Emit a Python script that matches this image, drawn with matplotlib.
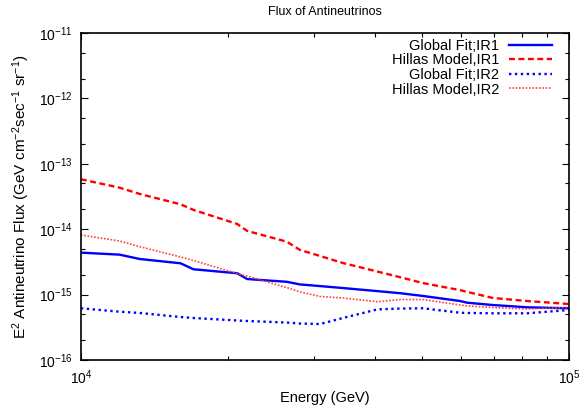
import matplotlib
matplotlib.use("Agg")
import matplotlib.pyplot as plt
from matplotlib.ticker import LogLocator, NullFormatter

plt.rcParams['font.family'] = ['Liberation Sans', 'DejaVu Sans']
plt.rcParams['mathtext.fontset'] = 'custom'
plt.rcParams['mathtext.rm'] = 'Liberation Sans'
plt.rcParams['mathtext.it'] = 'Liberation Sans:italic'
plt.rcParams['mathtext.bf'] = 'Liberation Sans:bold'

energy = [10000, 12000, 13200, 16000, 17000, 20900, 21900, 26400, 28100, 30900,
          34400, 40500, 45100, 50200, 59800, 61800, 69800, 82000, 100000]

global_fit_ir1 = [4.38e-15, 4.08e-15, 3.50e-15, 3.01e-15, 2.44e-15, 2.12e-15, 1.73e-15,
                  1.57e-15, 1.43e-15, 1.35e-15, 1.26e-15, 1.13e-15, 1.05e-15, 9.53e-16,
                  7.98e-16, 7.52e-16, 6.93e-16, 6.40e-16, 6.18e-16]
hillas_ir1 = [5.79e-14, 4.31e-14, 3.45e-14, 2.40e-14, 1.97e-14, 1.20e-14, 9.4e-15,
              6.44e-15, 4.81e-15, 3.89e-15, 3.04e-15, 2.25e-15, 1.84e-15, 1.50e-15,
              1.17e-15, 1.10e-15, 8.88e-16, 7.98e-16, 7.18e-16]
global_fit_ir2 = [6.18e-16, 5.48e-16, 5.24e-16, 4.54e-16, 4.39e-16, 4.02e-16, 3.95e-16,
                  3.74e-16, 3.61e-16, 3.55e-16, 4.39e-16, 5.95e-16, 6.12e-16, 6.18e-16,
                  5.28e-16, 5.24e-16, 5.18e-16, 5.18e-16, 5.82e-16]
hillas_ir2 = [8.15e-15, 6.60e-15, 5.40e-15, 3.76e-15, 3.32e-15, 2.10e-15, 1.92e-15,
              1.28e-15, 1.10e-15, 9.36e-16, 8.88e-16, 7.78e-16, 8.41e-16, 8.41e-16,
              6.93e-16, 6.70e-16, 6.35e-16, 6.03e-16, 6.40e-16]

fig = plt.figure(figsize=(5.82, 4.11), dpi=100)
ax = fig.add_axes([0.139, 0.124, 0.839, 0.796])

ax.plot(energy, global_fit_ir1, color='#0000ff', lw=1.7, label='Global Fit;IR1')
ax.plot(energy, hillas_ir1, color='#ff0000', lw=1.7, ls=(0, (2.5, 1.5)), label='Hillas Model,IR1')
ax.plot(energy, global_fit_ir2, color='#0000ff', lw=1.7, ls=(0, (1, 1.5)), label='Global Fit;IR2')
ax.plot(energy, hillas_ir2, color='#ff4040', lw=1.2, ls=(0, (1, 1)), label='Hillas Model,IR2')

ax.set_xscale('log')
ax.set_yscale('log')
ax.set_xlim(1e4, 1e5)
ax.set_ylim(1e-16, 1e-11)

ax.xaxis.set_minor_locator(LogLocator(base=10, subs=range(2, 10)))
ax.yaxis.set_minor_locator(LogLocator(base=10, subs=[2, 5]))
ax.xaxis.set_minor_formatter(NullFormatter())
ax.yaxis.set_minor_formatter(NullFormatter())

ax.tick_params(which='both', direction='in', top=True, right=True, labelsize=10, width=0.8)
ax.tick_params(which='major', length=5, pad=6)
ax.tick_params(which='minor', length=3)
for s in ax.spines.values():
    s.set_linewidth(1.2)

ax.set_title('Flux of Antineutrinos', fontsize=9, pad=13)
ax.set_xlabel('Energy (GeV)', fontsize=10.5, labelpad=3)
ax.set_ylabel('E$^2$ Antineutrino Flux (GeV cm$^{-2}$sec$^{-1}$ sr$^{-1}$)', fontsize=11, labelpad=5)

ax.legend(loc='upper right', bbox_to_anchor=(0.965, 0.982), frameon=False, markerfirst=False,
          fontsize=10.5, handlelength=2.95, handletextpad=0.68, labelspacing=0.04,
          borderaxespad=0, borderpad=0)

fig.savefig('out.png', dpi=100)
